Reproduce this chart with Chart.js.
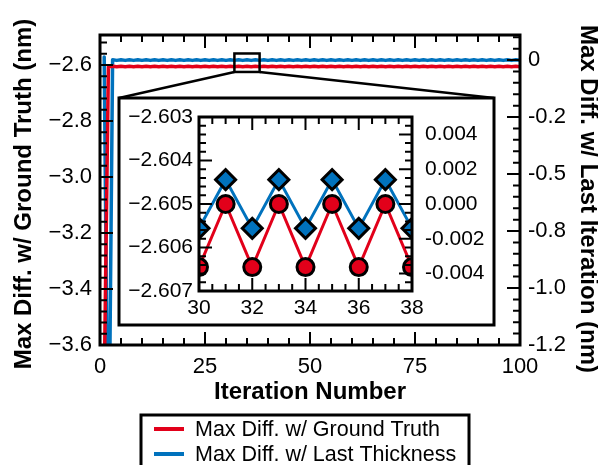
<!DOCTYPE html>
<html lang="en">
<head>
<meta charset="UTF-8">
<title>Max Diff per Iteration</title>
<script src="https://cdn.jsdelivr.net/npm/chart.js"></script>
<style>
  html, body { margin: 0; padding: 0; background: #fff; overflow: hidden; }
  #wrap { position: relative; width: 598px; height: 465px; }
  #main { position: absolute; left: 0; top: 0; }
  #inset { position: absolute; }
</style>
</head>
<body>
<div id="wrap">
  <canvas id="main" width="598" height="465"></canvas>
  <canvas id="inset" width="381" height="233"></canvas>
</div>

<script>
// iteration numbers
const iterations = [
  1, 2, 3, 4, 5, 6, 7, 8, 9, 10,
  11, 12, 13, 14, 15, 16, 17, 18, 19, 20,
  21, 22, 23, 24, 25, 26, 27, 28, 29, 30,
  31, 32, 33, 34, 35, 36, 37, 38, 39, 40,
  41, 42, 43, 44, 45, 46, 47, 48, 49, 50,
  51, 52, 53, 54, 55, 56, 57, 58, 59, 60,
  61, 62, 63, 64, 65, 66, 67, 68, 69, 70,
  71, 72, 73, 74, 75, 76, 77, 78, 79, 80,
  81, 82, 83, 84, 85, 86, 87, 88, 89, 90,
  91, 92, 93, 94, 95, 96, 97, 98, 99, 100
];

// max diff w/ ground truth (nm), left axis
const groundTruthDiff = [
  -3.75, -2.60645, -2.6050, -2.60645, -2.6050, -2.60645, -2.6050, -2.60645, -2.6050, -2.60645,
  -2.6050, -2.60645, -2.6050, -2.60645, -2.6050, -2.60645, -2.6050, -2.60645, -2.6050, -2.60645,
  -2.6050, -2.60645, -2.6050, -2.60645, -2.6050, -2.60645, -2.6050, -2.60645, -2.6050, -2.60645,
  -2.6050, -2.60645, -2.6050, -2.60645, -2.6050, -2.60645, -2.6050, -2.60645, -2.6050, -2.60645,
  -2.6050, -2.60645, -2.6050, -2.60645, -2.6050, -2.60645, -2.6050, -2.60645, -2.6050, -2.60645,
  -2.6050, -2.60645, -2.6050, -2.60645, -2.6050, -2.60645, -2.6050, -2.60645, -2.6050, -2.60645,
  -2.6050, -2.60645, -2.6050, -2.60645, -2.6050, -2.60645, -2.6050, -2.60645, -2.6050, -2.60645,
  -2.6050, -2.60645, -2.6050, -2.60645, -2.6050, -2.60645, -2.6050, -2.60645, -2.6050, -2.60645,
  -2.6050, -2.60645, -2.6050, -2.60645, -2.6050, -2.60645, -2.6050, -2.60645, -2.6050, -2.60645,
  -2.6050, -2.60645, -2.6050, -2.60645, -2.6050, -2.60645, -2.6050, -2.60645, -2.6050, -2.60645
];

// max diff w/ last thickness (nm), right axis
const lastThicknessDiff = [
  0.013, -2.0, 0.0014, -0.0014, 0.0014, -0.0014, 0.0014, -0.0014, 0.0014, -0.0014,
  0.0014, -0.0014, 0.0014, -0.0014, 0.0014, -0.0014, 0.0014, -0.0014, 0.0014, -0.0014,
  0.0014, -0.0014, 0.0014, -0.0014, 0.0014, -0.0014, 0.0014, -0.0014, 0.0014, -0.0014,
  0.0014, -0.0014, 0.0014, -0.0014, 0.0014, -0.0014, 0.0014, -0.0014, 0.0014, -0.0014,
  0.0014, -0.0014, 0.0014, -0.0014, 0.0014, -0.0014, 0.0014, -0.0014, 0.0014, -0.0014,
  0.0014, -0.0014, 0.0014, -0.0014, 0.0014, -0.0014, 0.0014, -0.0014, 0.0014, -0.0014,
  0.0014, -0.0014, 0.0014, -0.0014, 0.0014, -0.0014, 0.0014, -0.0014, 0.0014, -0.0014,
  0.0014, -0.0014, 0.0014, -0.0014, 0.0014, -0.0014, 0.0014, -0.0014, 0.0014, -0.0014,
  0.0014, -0.0014, 0.0014, -0.0014, 0.0014, -0.0014, 0.0014, -0.0014, 0.0014, -0.0014,
  0.0014, -0.0014, 0.0014, -0.0014, 0.0014, -0.0014, 0.0014, -0.0014, 0.0014, -0.0014
];

// main axes
const xTicks = [0, 25, 50, 75, 100];
const leftTicks = [-3.6, -3.4, -3.2, -3.0, -2.8, -2.6];
const rightTicks = [-1.25, -1.0, -0.75, -0.5, -0.25, 0];
const rightTickLabels = ['-1.2', '-1.0', '-0.8', '-0.5', '-0.2', '0'];

// zoom inset axes
const insetXTicks = [30, 32, 34, 36, 38];
const insetLeftTicks = [-2.607, -2.606, -2.605, -2.604, -2.603];
const insetRightTicks = [-0.004, -0.002, 0, 0.002, 0.004];

// region marked on the main plot + where the inset sits on the page
const zoomBoxX = [32, 38];
const zoomBoxY = [-2.625, -2.559];
const insetBox = { left: 119, top: 98, right: 494, bottom: 325 };

const RED = '#e2001a';
const BLUE = '#0072bd';
const FONT = "'Liberation Sans', Arial, sans-serif";

const redPts = iterations.map((it, i) => ({ x: it, y: groundTruthDiff[i] }));
const bluePts = iterations.map((it, i) => ({ x: it, y: lastThicknessDiff[i] }));

// major + minor tick values for one axis
function tickMarks(min, max, majors, step) {
  const marks = majors.map(v => ({ v: v, major: true }));
  const n0 = Math.ceil(min / step - 1e-6), n1 = Math.floor(max / step + 1e-6);
  for (let k = n0; k <= n1; k++) {
    const v = k * step;
    if (!majors.some(m => Math.abs(m - v) < step * 1e-3)) marks.push({ v: v, major: false });
  }
  return marks;
}

// inward tick marks on every side + box round the plot area
function frameTicks(spec) {
  return {
    id: 'frameTicks',
    afterDatasetsDraw(chart) {
      const ctx = chart.ctx, a = chart.chartArea;
      ctx.save();
      ctx.strokeStyle = '#000';
      ctx.lineWidth = 2;
      ctx.beginPath();
      spec.axes.forEach(ax => {
        const s = chart.scales[ax.id];
        tickMarks(s.min, s.max, ax.majors, ax.step).forEach(t => {
          const p = s.getPixelForValue(t.v);
          const L = t.major ? spec.major : spec.minor;
          ax.sides.forEach(side => {
            if (side === 'bottom') { ctx.moveTo(p, a.bottom); ctx.lineTo(p, a.bottom - L); }
            if (side === 'top') { ctx.moveTo(p, a.top); ctx.lineTo(p, a.top + L); }
            if (side === 'left') { ctx.moveTo(a.left, p); ctx.lineTo(a.left + L, p); }
            if (side === 'right') { ctx.moveTo(a.right, p); ctx.lineTo(a.right - L, p); }
          });
        });
      });
      ctx.stroke();
      ctx.lineWidth = 3;
      ctx.strokeRect(a.left, a.top, a.right - a.left, a.bottom - a.top);
      ctx.restore();
    }
  };
}

function axisBase(extra) {
  return Object.assign({
    type: 'linear',
    grid: { display: false, drawTicks: false },
    border: { display: false }
  }, extra);
}

// titles, zoom marker, connectors and legend on the main canvas
const mainDecor = {
  id: 'mainDecor',
  afterDraw(chart) {
    const ctx = chart.ctx;
    const sx = chart.scales.x, sy = chart.scales.y;
    ctx.save();

    // zoom marker and lines out to the inset
    const x0 = sx.getPixelForValue(zoomBoxX[0]), x1 = sx.getPixelForValue(zoomBoxX[1]);
    const y0 = sy.getPixelForValue(zoomBoxY[1]), y1 = sy.getPixelForValue(zoomBoxY[0]);
    ctx.strokeStyle = '#000';
    ctx.lineWidth = 2.5;
    ctx.strokeRect(x0, y0, x1 - x0, y1 - y0);
    ctx.beginPath();
    ctx.moveTo(x0, y1); ctx.lineTo(insetBox.left, insetBox.top);
    ctx.moveTo(x1, y1); ctx.lineTo(insetBox.right, insetBox.top);
    ctx.stroke();

    // axis titles
    ctx.fillStyle = '#000';
    ctx.font = 'bold 24px ' + FONT;
    ctx.textAlign = 'center';
    ctx.textBaseline = 'middle';
    ctx.fillText('Iteration Number', 310, 392);
    ctx.save();
    ctx.translate(24, 194);
    ctx.rotate(-Math.PI / 2);
    ctx.fillText('Max Diff. w/ Ground Truth (nm)', 0, 0);
    ctx.restore();
    ctx.save();
    ctx.translate(588, 199);
    ctx.rotate(Math.PI / 2);
    ctx.fillText('Max Diff. w/ Last Iteration (nm)', 0, 0);
    ctx.restore();

    // legend
    ctx.lineWidth = 3;
    ctx.strokeRect(141, 415, 328, 70);
    ctx.font = '21.5px ' + FONT;
    ctx.textAlign = 'left';
    chart.data.datasets.forEach((ds, i) => {
      const y = 429 + i * 25;
      ctx.strokeStyle = ds.borderColor;
      ctx.lineWidth = 4;
      ctx.beginPath();
      ctx.moveTo(154, y); ctx.lineTo(184, y);
      ctx.stroke();
      ctx.fillText(ds.label, 195, y + 1);
    });
    ctx.restore();
  }
};

const mainFont = { family: FONT, size: 22 };
const insetFont = { family: FONT, size: 21 };

const mainChart = new Chart(document.getElementById('main'), {
  type: 'line',
  data: {
    datasets: [
      {
        label: 'Max Diff. w/ Ground Truth',
        data: redPts, yAxisID: 'y',
        borderColor: RED, borderWidth: 3.5, pointRadius: 0,
        borderJoinStyle: 'round', borderCapStyle: 'round', clip: 0
      },
      {
        label: 'Max Diff. w/ Last Thickness',
        data: bluePts, yAxisID: 'y1',
        borderColor: BLUE, borderWidth: 3.5, pointRadius: 0,
        borderJoinStyle: 'round', borderCapStyle: 'round', clip: 0
      }
    ]
  },
  options: {
    responsive: false,
    animation: false,
    devicePixelRatio: 1,
    layout: { padding: { top: 35, left: 0, right: 0, bottom: 0 } },
    plugins: { legend: { display: false }, tooltip: { enabled: false } },
    scales: {
      x: axisBase({
        position: 'bottom', min: 0, max: 100,
        afterBuildTicks: s => { s.ticks = xTicks.map(v => ({ value: v })); },
        afterFit: s => { s.height = 120; s.paddingLeft = 0; s.paddingRight = 0; },
        ticks: { font: mainFont, color: '#000', padding: 9, maxRotation: 0, autoSkip: false,
                 callback: v => String(v) }
      }),
      y: axisBase({
        position: 'left', min: -3.6, max: -2.493,
        afterBuildTicks: s => { s.ticks = leftTicks.map(v => ({ value: v })); },
        afterFit: s => { s.width = 100; s.paddingTop = 0; s.paddingBottom = 0; },
        ticks: { font: mainFont, color: '#000', padding: 8, autoSkip: false,
                 callback: v => '\u2212' + Math.abs(v).toFixed(1) }
      }),
      y1: axisBase({
        position: 'right', min: -1.25, max: 0.11,
        afterBuildTicks: s => { s.ticks = rightTicks.map(v => ({ value: v })); },
        afterFit: s => { s.width = 78; s.paddingTop = 0; s.paddingBottom = 0; },
        ticks: { font: mainFont, color: '#000', padding: 8, autoSkip: false,
                 callback: (v, i) => rightTickLabels[i] }
      })
    }
  },
  plugins: [
    frameTicks({
      major: 13, minor: 7,
      axes: [
        { id: 'x', majors: xTicks, step: 5, sides: ['bottom', 'top'] },
        { id: 'y', majors: leftTicks, step: 0.04, sides: ['left'] },
        { id: 'y1', majors: rightTicks, step: 0.05, sides: ['right'] }
      ]
    }),
    mainDecor
  ]
});

// inset: same series, zoomed to iterations 30-38
const insetCanvas = document.getElementById('inset');
insetCanvas.style.left = (insetBox.left - 3) + 'px';
insetCanvas.style.top = (insetBox.top - 3) + 'px';

const insetBack = {
  id: 'insetBack',
  beforeDraw(chart) {
    const ctx = chart.ctx;
    ctx.save();
    ctx.fillStyle = '#fff';
    ctx.fillRect(3, 3, insetBox.right - insetBox.left, insetBox.bottom - insetBox.top);
    ctx.strokeStyle = '#000';
    ctx.lineWidth = 3;
    ctx.strokeRect(3, 3, insetBox.right - insetBox.left, insetBox.bottom - insetBox.top);
    ctx.restore();
  }
};

const insetChart = new Chart(insetCanvas, {
  type: 'line',
  data: {
    datasets: [
      {
        label: 'Max Diff. w/ Ground Truth',
        data: redPts, yAxisID: 'y',
        borderColor: RED, borderWidth: 3,
        pointStyle: 'circle', pointRadius: 8.5,
        pointBackgroundColor: RED, pointBorderColor: '#000', pointBorderWidth: 3,
        clip: 0
      },
      {
        label: 'Max Diff. w/ Last Thickness',
        data: bluePts, yAxisID: 'y1',
        borderColor: BLUE, borderWidth: 3,
        pointStyle: 'rectRot', pointRadius: 10,
        pointBackgroundColor: BLUE, pointBorderColor: '#000', pointBorderWidth: 3,
        clip: 0
      }
    ]
  },
  options: {
    responsive: false,
    animation: false,
    devicePixelRatio: 1,
    layout: { padding: { top: 22, left: 0, right: 0, bottom: 0 } },
    plugins: { legend: { display: false }, tooltip: { enabled: false } },
    scales: {
      x: axisBase({
        position: 'bottom', min: 30, max: 38,
        afterBuildTicks: s => { s.ticks = insetXTicks.map(v => ({ value: v })); },
        afterFit: s => { s.height = 37; s.paddingLeft = 0; s.paddingRight = 0; },
        ticks: { font: insetFont, color: '#000', padding: 5, maxRotation: 0, autoSkip: false,
                 callback: v => String(v) }
      }),
      y: axisBase({
        position: 'left', min: -2.607, max: -2.603,
        afterBuildTicks: s => { s.ticks = insetLeftTicks.map(v => ({ value: v })); },
        afterFit: s => { s.width = 83; s.paddingTop = 0; s.paddingBottom = 0; },
        ticks: { font: insetFont, color: '#000', padding: 6, autoSkip: false,
                 callback: v => '\u2212' + Math.abs(v).toFixed(3) }
      }),
      y1: axisBase({
        position: 'right', min: -0.005, max: 0.005,
        afterBuildTicks: s => { s.ticks = insetRightTicks.map(v => ({ value: v })); },
        afterFit: s => { s.width = 85; s.paddingTop = 0; s.paddingBottom = 0; },
        ticks: { font: insetFont, color: '#000', padding: 13, autoSkip: false,
                 callback: v => (Math.abs(v) < 1e-9 ? 0 : v).toFixed(3) }
      })
    }
  },
  plugins: [
    insetBack,
    frameTicks({
      major: 13, minor: 7,
      axes: [
        { id: 'x', majors: insetXTicks, step: 0.5, sides: ['bottom', 'top'] },
        { id: 'y', majors: insetLeftTicks, step: 0.0002, sides: ['left'] },
        { id: 'y1', majors: insetRightTicks, step: 0.0005, sides: ['right'] }
      ]
    })
  ]
});
</script>
</body>
</html>
